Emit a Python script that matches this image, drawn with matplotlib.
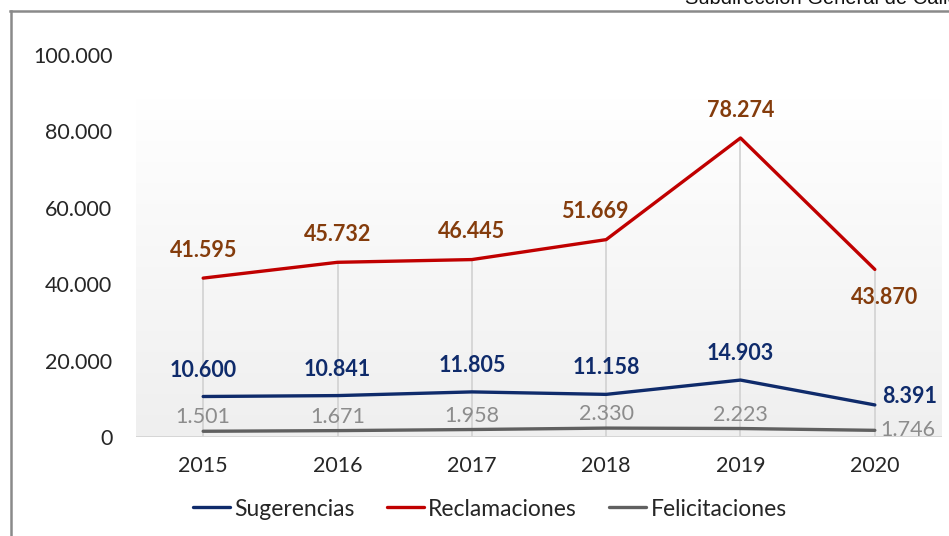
import matplotlib
matplotlib.use("Agg")
import matplotlib.pyplot as plt
import numpy as np
from matplotlib.lines import Line2D
from matplotlib.colors import LinearSegmentedColormap

years = ["2015", "2016", "2017", "2018", "2019", "2020"]
sugerencias = [10600, 10841, 11805, 11158, 14903, 8391]
reclamaciones = [41595, 45732, 46445, 51669, 78274, 43870]
felicitaciones = [1501, 1671, 1958, 2330, 2223, 1746]
yticks = [0, 20000, 40000, 60000, 80000, 100000]

plt.rcParams['font.family'] = ['Lato', 'DejaVu Sans']

def fmt(v):
    return f"{v:,}".replace(",", ".")

FS = 15.5
fig = plt.figure(figsize=(9.49, 5.36), dpi=100)
ax = fig.add_axes([136/949, 1-437/536, (942-136)/949, (437-55)/536])
x = np.arange(len(years))
ax.set_xlim(-0.5, 5.5)
ax.set_ylim(0, 100000)

# gradient background
cmap = LinearSegmentedColormap.from_list("g", ["#ffffff", "#efefef"])
grad = np.linspace(0, 1, 256).reshape(-1, 1)
ax.imshow(grad, extent=(-0.5, 5.5, 0, 88700), aspect='auto', cmap=cmap,
          origin='upper', zorder=0)

# drop lines
tops = np.maximum.reduce([sugerencias, reclamaciones, felicitaciones])
ax.vlines(x, 0, tops, color="#d4d4d4", lw=1.3, zorder=1)
ax.axhline(0, color="#d4d4d4", lw=1.3, zorder=1)

c_sug, c_rec, c_fel = "#0f2b6b", "#c00000", "#606060"
ax.plot(x, sugerencias, color=c_sug, lw=2.4, label="Sugerencias", zorder=3, solid_capstyle='round')
ax.plot(x, reclamaciones, color=c_rec, lw=2.4, label="Reclamaciones", zorder=3, solid_capstyle='round')
ax.plot(x, felicitaciones, color=c_fel, lw=2.4, label="Felicitaciones", zorder=3, solid_capstyle='round')

lab_rec, lab_sug, lab_fel = "#843c0c", "#0f2b6b", "#8c8c8c"
for i, v in enumerate(reclamaciones):
    if i == 5:
        ax.annotate(fmt(v), (i, v), xytext=(7, -20), textcoords='offset points',
                    ha='center', va='center', color=lab_rec, fontsize=FS, fontweight='bold', zorder=4)
    else:
        dx = -8 if i == 3 else 0
        ax.annotate(fmt(v), (i, v), xytext=(dx, 20), textcoords='offset points',
                    ha='center', va='center', color=lab_rec, fontsize=FS, fontweight='bold', zorder=4)
for i, v in enumerate(sugerencias):
    if i == 5:
        ax.annotate(fmt(v), (i, v), xytext=(5, 6), textcoords='offset points',
                    ha='left', va='center', color=lab_sug, fontsize=FS, fontweight='bold', zorder=4)
    else:
        ax.annotate(fmt(v), (i, v), xytext=(0, 19), textcoords='offset points',
                    ha='center', va='center', color=lab_sug, fontsize=FS, fontweight='bold', zorder=4)
for i, v in enumerate(felicitaciones):
    if i == 5:
        ax.annotate(fmt(v), (i, v), xytext=(4, 0), textcoords='offset points',
                    ha='left', va='center', color=lab_fel, fontsize=FS, zorder=4)
    else:
        ax.annotate(fmt(v), (i, v), xytext=(0, 10), textcoords='offset points',
                    ha='center', va='center', color=lab_fel, fontsize=FS, zorder=4)

ax.set_xticks(x)
ax.set_xticklabels(years)
ax.set_yticks(yticks)
ax.set_yticklabels([fmt(v) for v in yticks])
ax.tick_params(axis='both', length=0, labelsize=FS, colors="#262626")
ax.tick_params(axis='x', pad=14)
ax.tick_params(axis='y', pad=17)
for s in ax.spines.values():
    s.set_visible(False)

leg = fig.legend(loc='center', bbox_to_anchor=(490/949, 1-509/536), ncol=3, frameon=False,
                 fontsize=16.5, handlelength=1.6, handletextpad=0.2, columnspacing=1.4)
for t in leg.get_texts():
    t.set_color("#262626")

# frame lines
fig.add_artist(Line2D([10/949, 1], [1-11/536, 1-11/536], color="#8a8a8a", lw=1.8, transform=fig.transFigure))
fig.add_artist(Line2D([11/949, 11/949], [0, 1-11/536], color="#8a8a8a", lw=1.8, transform=fig.transFigure))
fig.text(685/949, 1-4/536, "Subdirección General de Calidad", family=['Liberation Sans'],
         fontsize=14.5, ha='left', va='baseline', color="#111111")

fig.savefig("out.png", dpi=100)
